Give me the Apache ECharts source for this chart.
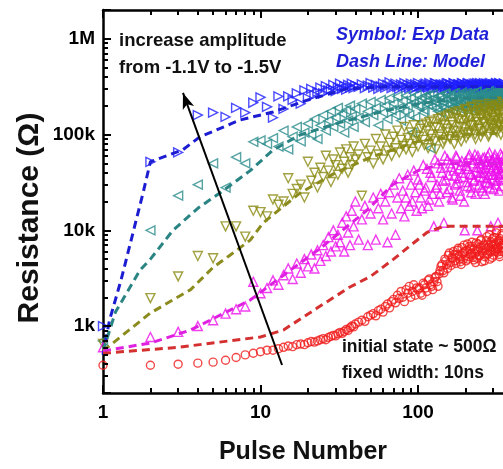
<!DOCTYPE html>
<html>
<head>
<meta charset="utf-8">
<script src="https://cdn.jsdelivr.net/npm/echarts@6/dist/echarts.min.js"></script>
<style>
  html, body { margin: 0; padding: 0; overflow: hidden; background: #fff; }
  #chart { width: 640px; height: 469px; }
</style>
</head>
<body>
<div id="chart"></div>
<script>
// Pulse numbers of the first read-out set (shared by all five amplitudes)
const pulses = [
  1,2,3,4,5,6,7,8,9,10,
  11,12,13,14,15,16,17,18,19,20,
  21,22,23,24,25,26,27,28,29,30,
  31,32,33,34,35,36,37,38,39,40,
  42,44,46,48,50,52,54,56,58,60,
  62,64,66,68,70,72,74,76,78,80,
  82,84,86,88,90,92,94,96,98,100,
  104,108,112,116,120,124,128,132,136,140,
  144,148,152,156,160,164,168,172,176,180,
  184,188,192,196,200,204,208,212,216,220,
  224,228,232,236,240,244,248,252,256,260,
  264,268,272,276,280,284,288,292,296,300,
  304,308,312,316,320,324,328,332,336,340,
  344,348,352
];
// Pulse numbers of the interleaved read-out set
const pulsesB = [
  102,106,110,114,118,122,126,130,134,138,
  142,146,150,154,158,162,166,170,174,178,
  182,186,190,194,198,202,206,210,214,218,
  222,226,230,234,238,242,246,250,254,258,
  262,266,270,274,278,282,286,290,294,298,
  302,306,310,314,318,322,326,330,334,338,
  342,346,350
];

// Measured resistance (ohm), -1.1 V
const expR_11 = [
  390,390,400,410,420,440,470,500,520,540,
  560,560,580,600,620,610,640,650,640,670,
  690,680,700,720,740,720,760,780,800,790,
  830,860,840,880,920,900,960,1000,980,1050,
  1100,1150,1120,1250,1300,1350,1280,1450,1500,1400,
  1600,1700,1550,1800,1900,1750,2100,1950,2300,2000,
  1800,2400,2200,2600,2000,2300,2700,2100,2500,2400,
  2200,2800,2500,3000,2700,2400,3200,2900,3500,4200,
  3800,5000,4400,5500,4600,5200,6000,4800,5600,6500,
  5000,4400,5800,7000,5400,6200,5000,6800,5600,7500,
  5200,6400,4600,6000,7200,5400,6600,8000,5800,7000,
  4800,6200,7800,5600,6600,9000,6000,7200,5200,6800,
  8400,6000,7400,10000,6400,7600,5600,8200,6600,9200,
  7000,6000,7800
];
const expR_11B = [
  2500,2100,2700,2300,3100,2600,2900,3300,2600,3800,
  4400,3600,4800,4000,5800,4300,5100,5600,4500,6200,
  5400,4700,6600,5000,6000,4800,7200,5300,6400,5800,
  6800,4900,5700,7400,5100,6300,5500,7800,4700,6100,
  7000,5300,6500,8600,5700,6900,5000,7600,6200,8200,
  5500,7100,6400,9400,5900,6700,7900,5300,7300,6000,
  8800,6500,7200
];

// Measured resistance (ohm), -1.2 V
const expR_12 = [
  600,770,870,1000,1150,1350,1500,1600,2900,2200,
  2500,3000,2700,3400,4000,3100,4500,3600,5000,4200,
  5600,4000,6200,4800,7000,5400,8500,6000,10000,6800,
  9000,7500,12000,6000,14000,9500,7000,16000,11000,20000,
  8000,13000,18000,7000,15000,22000,8000,17000,24000,13000,
  20000,7500,25000,15000,30000,9000,22000,35000,17000,26000,
  14000,22000,38000,18000,30000,20000,42000,25000,16000,34000,
  22000,48000,28000,18000,40000,24000,55000,30000,20000,45000,
  33000,60000,25000,38000,50000,22000,42000,30000,58000,35000,
  26000,48000,40000,20000,52000,32000,44000,62000,28000,38000,
  55000,34000,24000,46000,60000,30000,40000,50000,26000,36000,
  58000,44000,32000,52000,38000,65000,28000,42000,55000,34000,
  48000,62000,30000,44000,56000,38000,26000,50000,40000,60000,
  34000,46000,54000
];
const expR_12B = [
  30000,17000,26000,44000,21000,36000,11000,28000,50000,24000,
  40000,12000,34000,55000,27000,46000,21000,37000,60000,31000,
  44000,23000,53000,36000,10000,47000,29000,58000,39000,25000,
  50000,33000,62000,41000,10000,54000,36000,45000,28000,57000,
  40000,24000,49000,35000,60000,31000,46000,11000,53000,38000,
  27000,58000,42000,33000,51000,12000,45000,36000,63000,29000,
  48000,39000,57000
];

// Measured resistance (ohm), -1.3 V
const expR_13 = [
  650,1960,3300,5400,5100,11000,11000,8600,16000,15500,
  14000,21000,18500,20000,35000,24000,27000,30000,22000,52000,
  33000,40000,28000,45000,36000,60000,42000,32000,55000,48000,
  38000,65000,44000,52000,70000,40000,58000,48000,75000,55000,
  62000,23000,80000,58000,68000,50000,90000,62000,75000,55000,
  100000,68000,82000,60000,95000,72000,110000,65000,88000,76000,
  120000,70000,92000,80000,105000,66000,125000,85000,98000,75000,
  115000,88000,130000,72000,100000,140000,85000,118000,95000,150000,
  80000,125000,105000,160000,90000,135000,110000,170000,95000,145000,
  120000,85000,165000,105000,140000,180000,100000,150000,125000,190000,
  110000,160000,90000,135000,175000,115000,150000,200000,105000,165000,
  130000,185000,120000,155000,95000,170000,140000,200000,115000,160000,
  130000,190000,110000,150000,175000,125000,210000,145000,100000,180000,
  135000,160000,120000
];
const expR_13B = [
  95000,125000,78000,110000,135000,90000,120000,70000,145000,100000,
  130000,88000,155000,115000,95000,165000,125000,80000,150000,108000,
  175000,98000,140000,120000,185000,92000,160000,130000,105000,195000,
  125000,170000,100000,145000,205000,115000,180000,95000,155000,135000,
  190000,110000,165000,145000,210000,100000,175000,125000,195000,150000,
  115000,185000,140000,220000,105000,165000,130000,200000,120000,170000,
  145000,215000,110000
];

// Measured resistance (ohm), -1.4 V
const expR_14 = [
  700,10000,23000,30000,50000,28000,58000,50000,84000,87000,
  80000,92000,75000,110000,70000,95000,120000,85000,105000,130000,
  100000,145000,90000,125000,160000,110000,140000,175000,120000,150000,
  190000,130000,165000,105000,180000,140000,200000,155000,120000,185000,
  150000,210000,135000,175000,220000,160000,190000,125000,230000,170000,
  200000,145000,240000,180000,210000,160000,250000,190000,140000,225000,
  175000,255000,200000,160000,240000,105000,215000,150000,260000,195000,
  230000,170000,255000,205000,72000,265000,220000,190000,250000,170000,
  240000,270000,210000,185000,260000,225000,195000,275000,240000,200000,
  265000,215000,180000,255000,230000,275000,205000,245000,190000,270000,
  225000,250000,200000,280000,235000,210000,265000,240000,190000,275000,
  220000,255000,205000,280000,240000,215000,265000,230000,280000,200000,
  250000,225000,275000,245000,210000,270000,235000,285000,220000,260000,
  240000,275000,250000
];
const expR_14B = [
  200000,245000,180000,225000,260000,195000,240000,215000,175000,255000,
  220000,190000,265000,235000,205000,250000,180000,270000,230000,210000,
  255000,195000,275000,235000,215000,260000,185000,245000,270000,225000,
  200000,265000,240000,280000,215000,250000,230000,195000,270000,245000,
  210000,275000,235000,260000,220000,285000,245000,205000,270000,230000,
  260000,215000,280000,240000,225000,270000,250000,210000,285000,235000,
  265000,220000,280000
];

// Measured resistance (ohm), -1.5 V
const expR_15 = [
  1000,52000,65000,160000,170000,153000,190000,170000,215000,245000,
  195000,150000,250000,185000,250000,230000,270000,210000,290000,240000,
  300000,260000,280000,310000,270000,320000,290000,300000,330000,285000,
  310000,340000,300000,320000,295000,330000,310000,340000,305000,325000,
  315000,335000,305000,325000,345000,310000,330000,300000,320000,340000,
  310000,330000,350000,305000,325000,340000,315000,300000,335000,320000,
  345000,310000,330000,305000,340000,320000,300000,335000,315000,345000,
  305000,325000,340000,310000,330000,300000,345000,320000,310000,335000,
  325000,305000,340000,315000,330000,300000,345000,320000,310000,335000,
  300000,325000,340000,315000,330000,305000,345000,320000,310000,335000,
  325000,300000,340000,315000,330000,305000,345000,320000,310000,335000,
  300000,325000,340000,315000,330000,305000,345000,320000,310000,335000,
  325000,300000,340000,315000,330000,305000,345000,320000,310000,335000,
  300000,325000,340000
];
const expR_15B = [
  320000,305000,335000,315000,345000,300000,325000,340000,310000,330000,
  305000,335000,320000,345000,310000,330000,300000,340000,315000,325000,
  335000,310000,345000,300000,325000,315000,340000,305000,330000,320000,
  310000,340000,325000,305000,345000,315000,330000,300000,335000,320000,
  345000,305000,320000,335000,310000,340000,300000,330000,315000,325000,
  305000,335000,320000,345000,310000,325000,300000,340000,315000,330000,
  320000,305000,340000
];

// Model curves: [pulse number, resistance (ohm)]
const model_11 = [[1,520],[3,600],[10,770],[14,910],[23,1550],[37,2560],[50,3300],[70,5000],[90,7000],[114,9500],[145,11000],[1000,11000]];
const model_12 = [[1,550],[2,665],[3.6,910],[8.6,1870],[14,3400],[24,6500],[47,16000],[69,30000],[100,42000],[140,49000],[180,50000],[1000,50000]];
const model_13 = [[1,550],[2,1370],[3.6,2400],[5,4100],[6.4,5500],[8.6,7900],[10.4,12000],[17.8,24500],[30,40000],[50,58000],[100,85000],[200,100000],[1000,110000]];
const model_14 = [[1,550],[1.2,1400],[1.72,3850],[2,5000],[2.78,10000],[4,17000],[5.8,26000],[8.6,42000],[12,69000],[17.8,99000],[30,130000],[60,175000],[100,210000],[200,240000],[1000,250000]];
const model_15 = [[1,500],[1.1,1150],[1.3,3000],[1.55,9400],[1.8,25000],[2,52000],[3.2,69000],[4.1,94000],[7.4,142000],[12,172000],[20,230000],[35,300000],[60,315000],[1000,320000]];

// Arrow marking the direction of increasing amplitude
const arrowFrom = [13.7, 392];
const arrowTo = [3.22, 272000];

// Axis ranges and tick values
const xRange = [1, 1000];
const yRange = [200, 2000000];
const xMajorTicks = [1, 10, 100, 1000];
const yMajorTicks = [1000, 10000, 100000, 1000000];
const xMinorTicks = [2,3,4,5,6,7,8,9,20,30,40,50,60,70,80,90,200,300,400,500,600,700,800,900];
const yMinorTicks = [300,400,500,600,700,800,900,2000,3000,4000,5000,6000,7000,8000,9000,
  20000,30000,40000,50000,60000,70000,80000,90000,200000,300000,400000,500000,600000,700000,800000,900000];
const yTickText = { 3: '1k', 4: '10k', 5: '100k', 6: '1M' };

const FONT = '"Liberation Sans", Arial, Helvetica, sans-serif';

// Plot box geometry (px)
const CHART_W = 640, CHART_H = 469;
const GRID = { left: 103, right: 64.5, top: 10, bottom: 76 };
const MAJOR_LEN = 8, MINOR_LEN = 5;
const EDGE_IN = 0.2; // ticks start a hair inside the box so they stay within the axis range

// pixels per decade along each log axis, used to turn a pixel length into a value ratio
const pxPerDecadeX = (CHART_W - GRID.left - GRID.right) / Math.log10(xRange[1] / xRange[0]);
const pxPerDecadeY = (CHART_H - GRID.top - GRID.bottom) / Math.log10(yRange[1] / yRange[0]);
const ratioX = len => Math.pow(10, len / pxPerDecadeX);
const ratioY = len => Math.pow(10, len / pxPerDecadeY);

const pair = (xs, vals) => xs.map((p, i) => [p, vals[i]]);

function scatter(name, vals, valsB, symbol, rotate, color) {
  return {
    type: 'scatter', name, data: pair(pulses, vals).concat(pair(pulsesB, valsB)),
    symbol, symbolRotate: rotate,
    symbolSize: symbol === 'circle' ? 8 : 9,
    itemStyle: { color: 'rgba(0,0,0,0)', borderColor: color, borderWidth: 1.4 },
    z: 2, silent: true
  };
}
function dashed(name, data, color) {
  return {
    type: 'line', name, data, symbol: 'none', showSymbol: false,
    lineStyle: { color, width: 3, type: [8, 5] }, z: 3, silent: true
  };
}

// inward tick marks on the bottom, top and left sides of the box
function tickSegments() {
  const segs = [];
  const yLo = yRange[0] * ratioY(EDGE_IN), yHi = yRange[1] / ratioY(EDGE_IN);
  const xLo = xRange[0] * ratioX(EDGE_IN);
  const addX = (v, len) => {
    if (v <= xRange[0] || v >= xRange[1]) return;
    segs.push([{ coord: [v, yLo] }, { coord: [v, yRange[0] * ratioY(len)] }]);
    segs.push([{ coord: [v, yHi] }, { coord: [v, yRange[1] / ratioY(len)] }]);
  };
  const addY = (v, len) => {
    segs.push([{ coord: [xLo, v] }, { coord: [xRange[0] * ratioX(len), v] }]);
  };
  xMajorTicks.forEach(v => addX(v, MAJOR_LEN));
  xMinorTicks.forEach(v => addX(v, MINOR_LEN));
  yMajorTicks.forEach(v => addY(v, MAJOR_LEN));
  yMinorTicks.forEach(v => addY(v, MINOR_LEN));
  return segs;
}

const axisBase = {
  type: 'log', logBase: 10,
  axisLine: { show: true, lineStyle: { color: '#000', width: 2.5 } },
  axisTick: { show: true, inside: true, length: MAJOR_LEN, lineStyle: { color: '#000', width: 2 } },
  splitLine: { show: false }
};

const option = {
  animation: false,
  backgroundColor: '#fff',
  grid: Object.assign({ containLabel: false }, GRID),
  xAxis: [
    Object.assign({}, axisBase, {
      position: 'bottom', min: xRange[0], max: xRange[1],
      axisLabel: { show: true, margin: 10, color: '#000', fontSize: 19, fontWeight: 'bold', fontFamily: FONT,
        formatter: v => String(Math.round(v)) }
    }),
    Object.assign({}, axisBase, {
      position: 'top', min: xRange[0], max: xRange[1], axisLabel: { show: false }
    })
  ],
  yAxis: [
    Object.assign({}, axisBase, {
      position: 'left', min: yRange[0], max: yRange[1],
      axisLabel: { show: true, margin: 8, color: '#000', fontSize: 19, fontWeight: 'bold', fontFamily: FONT,
        formatter: v => { const e = Math.log10(v); return Math.abs(e - Math.round(e)) < 1e-6 ? (yTickText[Math.round(e)] || '') : ''; } }
    })
  ],
  series: [
    scatter('-1.5V exp', expR_15, expR_15B, 'triangle', -90, '#1f1fff'),
    scatter('-1.4V exp', expR_14, expR_14B, 'triangle', 90, '#2a8c8c'),
    scatter('-1.3V exp', expR_13, expR_13B, 'triangle', 180, '#8a8a12'),
    scatter('-1.2V exp', expR_12, expR_12B, 'triangle', 0, '#ec10ec'),
    scatter('-1.1V exp', expR_11, expR_11B, 'circle', 0, '#f01c1c'),
    dashed('-1.5V model', model_15, '#1c1cd2'),
    dashed('-1.4V model', model_14, '#2a8484'),
    dashed('-1.3V model', model_13, '#8c8c1e'),
    dashed('-1.2V model', model_12, '#e020e0'),
    dashed('-1.1V model', model_11, '#d43030'),
    {
      type: 'line', name: 'arrow', data: [], z: 5, silent: true,
      markLine: {
        silent: true, symbol: ['none', 'arrow'], symbolSize: [9, 16],
        lineStyle: { color: '#000', width: 2, type: 'solid' },
        label: { show: false },
        data: [[{ coord: arrowFrom }, { coord: arrowTo }]]
      }
    },
    {
      type: 'line', name: 'ticks', data: [], z: 6, silent: true,
      markLine: {
        silent: true, symbol: ['none', 'none'],
        lineStyle: { color: '#000', width: 2, type: 'solid' },
        label: { show: false },
        data: tickSegments()
      }
    }
  ],
  graphic: [
    { type: 'text', left: 119, top: 31, style: { text: 'increase amplitude', font: 'bold 18.5px ' + FONT, fill: '#111' } },
    { type: 'text', left: 119, top: 58, style: { text: 'from -1.1V to -1.5V', font: 'bold 18.5px ' + FONT, fill: '#111' } },
    { type: 'text', left: 336, top: 26, style: { text: 'Symbol: Exp Data', font: 'italic bold 18px ' + FONT, fill: '#1f1fd8' } },
    { type: 'text', left: 336, top: 53, style: { text: 'Dash Line: Model', font: 'italic bold 18px ' + FONT, fill: '#1f1fd8' } },
    { type: 'text', left: 342, top: 338, style: { text: 'initial state ~ 500Ω', font: 'bold 17.5px ' + FONT, fill: '#111' } },
    { type: 'text', left: 342, top: 364, style: { text: 'fixed width: 10ns', font: 'bold 17.5px ' + FONT, fill: '#111' } },
    { type: 'text', x: 303, y: 452, style: { text: 'Pulse Number', font: 'bold 25px ' + FONT, fill: '#111', align: 'center', verticalAlign: 'middle' } },
    { type: 'text', x: 30, y: 218, rotation: Math.PI / 2, style: { text: 'Resistance (Ω)', font: 'bold 30px ' + FONT, fill: '#111', align: 'center', verticalAlign: 'middle' } }
  ]
};

const chart = echarts.init(document.getElementById('chart'), null, { renderer: 'canvas' });
chart.setOption(option);
</script>
</body>
</html>
